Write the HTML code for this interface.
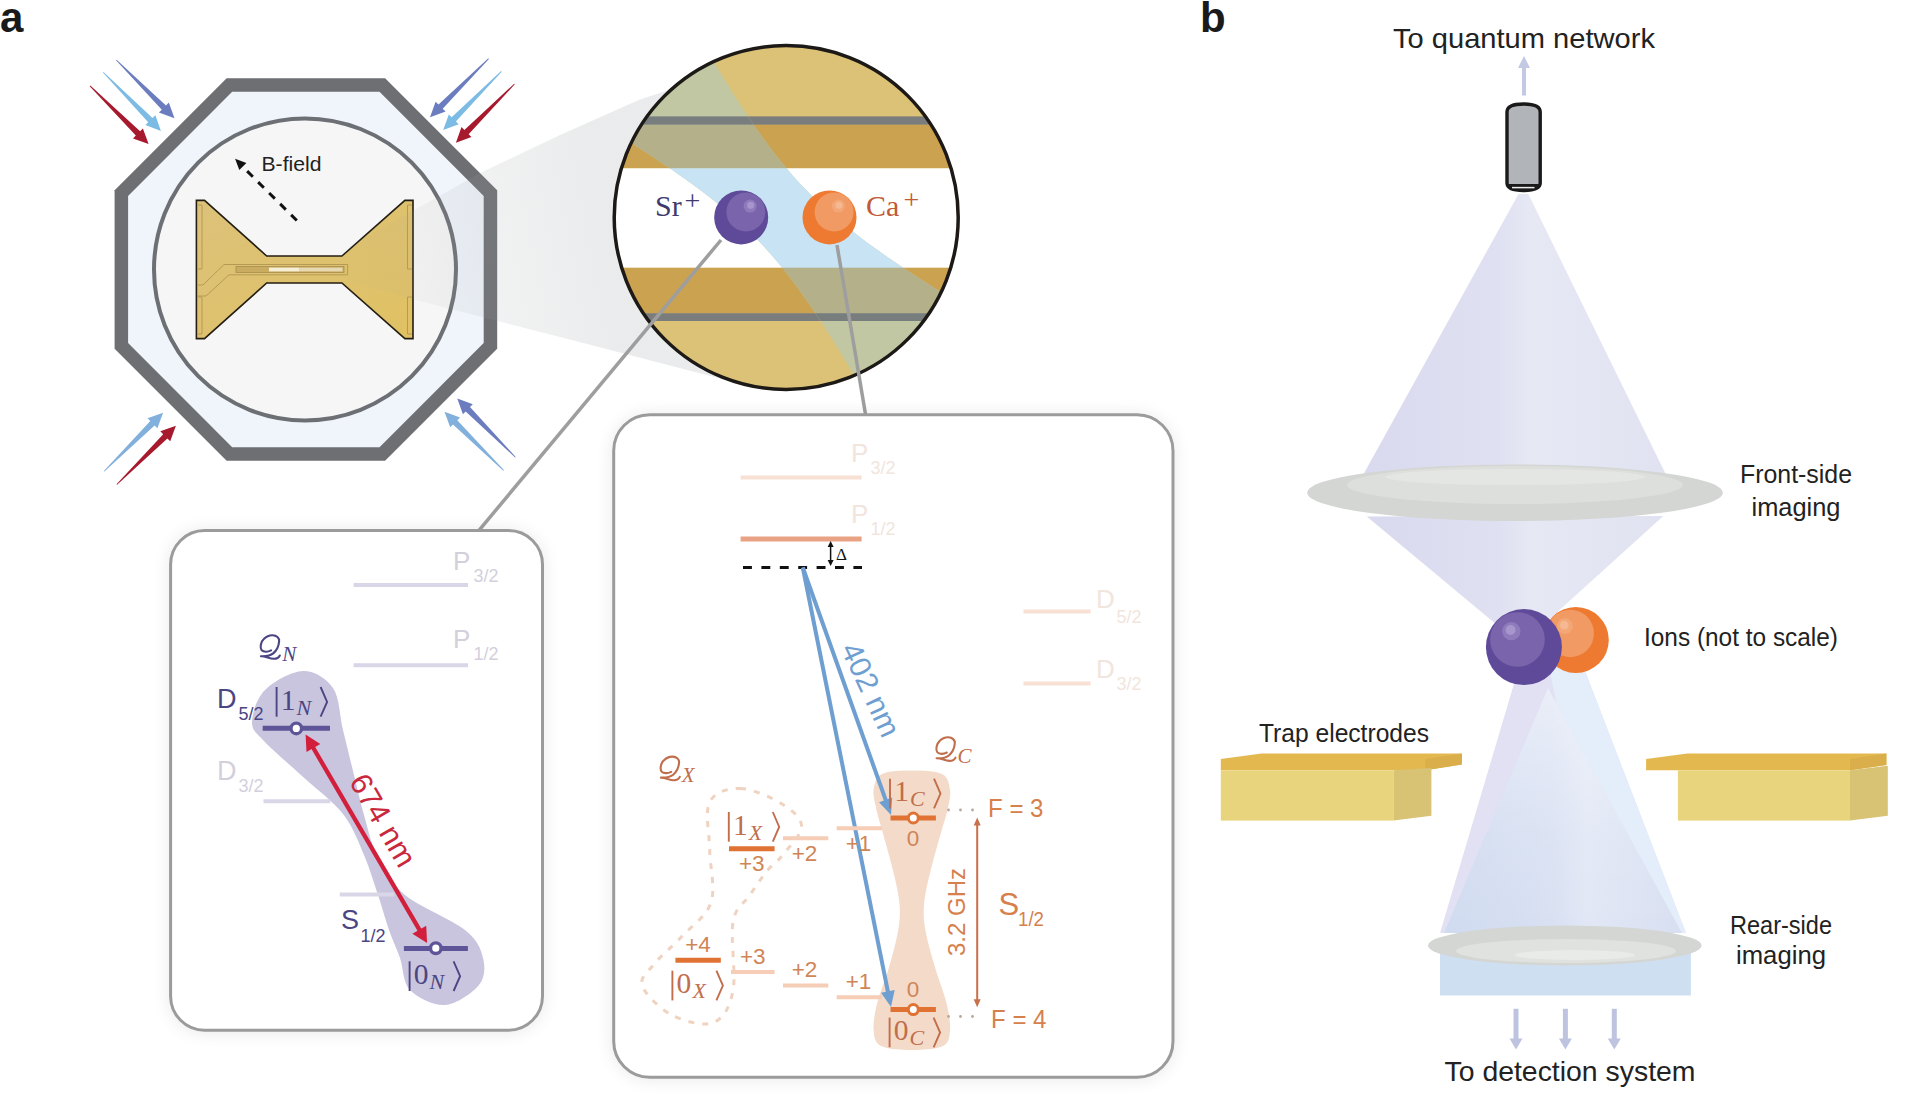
<!DOCTYPE html><html><head><meta charset="utf-8"><style>html,body{margin:0;padding:0;background:#fff;overflow:hidden}svg{display:block}</style></head><body>
<svg width="1920" height="1101" viewBox="0 0 1920 1101">
<defs>
<linearGradient id="wedgeG" gradientUnits="userSpaceOnUse" x1="330" y1="269" x2="600" y2="220">
<stop offset="0" stop-color="#9a9da2" stop-opacity="0"/><stop offset="0.6" stop-color="#9a9da2" stop-opacity="0.14"/><stop offset="1" stop-color="#9a9da2" stop-opacity="0.2"/></linearGradient>
<linearGradient id="goldG" x1="0" y1="0" x2="1" y2="1">
<stop offset="0" stop-color="#dcc27a"/><stop offset="1" stop-color="#e0c163"/></linearGradient>
<clipPath id="magClip"><circle cx="786.2" cy="217.5" r="172"/></clipPath>
<radialGradient id="srG" cx="0.6" cy="0.35" r="0.7"><stop offset="0" stop-color="#8a76bb"/><stop offset="0.55" stop-color="#7560a8"/><stop offset="1" stop-color="#5f4b98"/></radialGradient>
<radialGradient id="caG" cx="0.6" cy="0.35" r="0.7"><stop offset="0" stop-color="#f2a070"/><stop offset="0.55" stop-color="#ef8444"/><stop offset="1" stop-color="#ea702c"/></radialGradient>
<linearGradient id="coneG" x1="0" y1="0" x2="1" y2="0">
<stop offset="0" stop-color="#d9d9ef"/><stop offset="0.45" stop-color="#dfe0f1"/><stop offset="0.55" stop-color="#e6e8f4"/><stop offset="1" stop-color="#e0e2f1"/></linearGradient>
<linearGradient id="innerG" gradientUnits="userSpaceOnUse" x1="1444" y1="0" x2="1682" y2="0"><stop offset="0" stop-color="#d0dbf0"/><stop offset="0.45" stop-color="#d8e0f2"/><stop offset="0.6" stop-color="#e1e7f5"/><stop offset="1" stop-color="#d8dff1"/></linearGradient>
<linearGradient id="innerV" x1="0" y1="0" x2="0" y2="1"><stop offset="0" stop-color="#ffffff" stop-opacity="0.45"/><stop offset="0.6" stop-color="#ffffff" stop-opacity="0.1"/><stop offset="1" stop-color="#ffffff" stop-opacity="0"/></linearGradient>
<linearGradient id="lensG" x1="0" y1="0" x2="0" y2="1">
<stop offset="0" stop-color="#e2e5e2"/><stop offset="1" stop-color="#cfd3cf"/></linearGradient>
<filter id="shadow" x="-20%" y="-20%" width="140%" height="140%"><feGaussianBlur in="SourceAlpha" stdDeviation="9"/><feOffset dx="0" dy="1"/><feComponentTransfer><feFuncA type="linear" slope="0.09"/></feComponentTransfer><feMerge><feMergeNode/><feMergeNode in="SourceGraphic"/></feMerge></filter>
</defs>
<text x="0" y="32" font-family="Liberation Sans, sans-serif" font-weight="bold" font-size="42" fill="#1a1a1a">a</text>
<polygon points="226.6,78.2 385.1,78.2 497.2,190.3 497.2,348.7 385.1,460.8 226.6,460.8 114.6,348.7 114.6,190.3" fill="#6d6f73"/>
<polygon points="232.2,91.7 379.5,91.7 483.7,195.9 483.7,343.1 379.5,447.3 232.2,447.3 128.1,343.1 128.1,195.9" fill="#f0f5fb"/>
<circle cx="305" cy="269.4" r="151" fill="#f6f6f6" stroke="#6c6f73" stroke-width="4"/>
<path d="M196.4,200.4 L204.5,200.4 L266.7,256 L341.9,256 L404.9,200.4 L413,200.4 L413,338.6 L404.9,338.6 L341.9,283 L266.7,283 L204.5,338.6 L196.4,338.6 Z" fill="url(#goldG)" stroke="#231d12" stroke-width="1.6" stroke-linejoin="miter"/>
<g fill="none" stroke="#b59a55" stroke-width="1">
<path d="M197.5,205 L202,205 L202,269 L197.5,269"/><path d="M197.5,297 L202,297 L202,334 L197.5,334"/>
<path d="M412,205 L407.5,205 L407.5,269 L412,269"/><path d="M412,297 L407.5,297 L407.5,334 L412,334"/>
<path d="M197,285 L203,285 L224,264.5 L347.6,264.5 L347.6,274.8 L229,274.8 L206,296 L197,296"/>
</g>
<rect x="236" y="266.5" width="108" height="6" fill="#c9ab62" stroke="#a88d4c" stroke-width="0.8"/>
<rect x="269" y="267.6" width="30.5" height="3.8" fill="#f6efd8"/>
<rect x="299.5" y="267.6" width="43" height="3.8" fill="#e6d8b0"/>
<line x1="296.8" y1="220.5" x2="243" y2="167" stroke="#111" stroke-width="3" stroke-dasharray="8,7.5"/>
<polygon points="235.1,158.8 246.4,163.0 239.3,170.1" fill="#111"/>
<text x="261.5" y="170.9" font-family="Liberation Sans, sans-serif" font-size="21" fill="#222" textLength="60" lengthAdjust="spacingAndGlyphs">B-field</text>
<polygon points="116.0,60.3 161.8,109.7 158.9,112.5 174.5,118.2 168.8,102.6 166.0,105.5 116.6,59.7" fill="#6c7dbf"/>
<polygon points="102.9,72.6 148.2,122.3 145.4,125.1 160.9,130.9 155.4,115.3 152.5,118.1 103.5,72.0" fill="#7cbbe4"/>
<polygon points="89.7,86.2 135.8,135.6 133.0,138.4 148.6,144.0 142.9,128.5 140.1,131.3 90.3,85.6" fill="#a71a2e"/>
<polygon points="488.3,58.3 438.5,104.6 435.6,101.7 430.0,117.3 445.6,111.6 442.7,108.8 488.9,58.9" fill="#6c7dbf"/>
<polygon points="501.1,71.1 451.6,117.2 448.8,114.4 443.2,130.0 458.7,124.3 455.9,121.5 501.7,71.7" fill="#7cbbe4"/>
<polygon points="514.2,83.7 464.4,130.0 461.5,127.1 455.9,142.7 471.5,137.0 468.6,134.2 514.8,84.3" fill="#a71a2e"/>
<polygon points="104.4,471.6 154.6,425.4 157.4,428.2 163.1,412.7 147.5,418.3 150.3,421.1 103.8,471.0" fill="#82b0dc"/>
<polygon points="117.1,484.8 167.4,438.4 170.2,441.2 175.9,425.7 160.3,431.3 163.2,434.2 116.5,484.2" fill="#a71a2e"/>
<polygon points="515.7,456.9 470.0,407.1 472.8,404.3 457.3,398.6 462.9,414.2 465.7,411.4 515.1,457.5" fill="#6c7dbf"/>
<polygon points="503.9,470.1 457.3,420.2 460.1,417.4 444.5,411.8 450.2,427.3 453.0,424.5 503.3,470.7" fill="#82b0dc"/>
<polygon points="306,270 443,194 480,173 560,135 640,99.5 669,90 786,217 722,379 560,337 420,301" fill="url(#wedgeG)"/>
<g clip-path="url(#magClip)">
<rect x="600" y="30" width="380" height="380" fill="#dcc276"/>
<rect x="600" y="116.4" width="380" height="8.4" fill="#7b7d7c"/>
<rect x="600" y="124.8" width="380" height="43.5" fill="#cba24f"/>
<rect x="600" y="168.3" width="380" height="99.5" fill="#ffffff"/>
<rect x="600" y="267.8" width="380" height="45.4" fill="#cba24f"/>
<rect x="600" y="313.2" width="380" height="7.8" fill="#7b7d7c"/>
<clipPath id="beamClip"><path d="M539.9,87.3 L548.8,92.6 L557.7,97.9 L566.6,103.2 L575.4,108.5 L584.3,113.9 L593.1,119.3 L601.9,124.7 L610.6,130.1 L619.4,135.5 L628.1,141.0 L636.7,146.5 L645.3,152.1 L653.9,157.7 L662.4,163.4 L670.9,169.1 L679.3,174.9 L687.6,180.8 L695.8,186.7 L703.9,192.8 L711.9,199.0 L719.8,205.3 L727.5,211.7 L735.1,218.3 L742.5,225.0 L749.8,231.9 L756.8,239.0 L763.7,246.2 L770.4,253.7 L776.9,261.3 L783.3,269.0 L789.5,276.9 L795.6,285.0 L801.5,293.2 L807.4,301.4 L813.1,309.8 L818.7,318.3 L824.3,326.8 L829.8,335.4 L835.2,344.1 L840.6,352.8 L845.9,361.6 L851.2,370.4 L856.4,379.3 L861.6,388.2 L866.8,397.1 L871.9,406.0 L877.1,415.0 L882.2,424.0 L887.3,433.0 L892.3,442.0 L897.4,451.0 L902.4,460.1 L1023.5,342.3 L1014.6,337.0 L1005.7,331.7 L996.8,326.4 L988.0,321.1 L979.1,315.7 L970.3,310.3 L961.5,304.9 L952.8,299.5 L944.0,294.1 L935.3,288.6 L926.7,283.1 L918.1,277.5 L909.5,271.9 L901.0,266.2 L892.5,260.5 L884.1,254.7 L875.8,248.8 L867.6,242.9 L859.5,236.8 L851.5,230.6 L843.6,224.3 L835.9,217.9 L828.3,211.3 L820.9,204.6 L813.6,197.7 L806.6,190.6 L799.7,183.4 L793.0,175.9 L786.5,168.3 L780.1,160.6 L773.9,152.7 L767.8,144.6 L761.9,136.4 L756.0,128.2 L750.3,119.8 L744.7,111.3 L739.1,102.8 L733.6,94.2 L728.2,85.5 L722.8,76.8 L717.5,68.0 L712.2,59.2 L707.0,50.3 L701.8,41.4 L696.6,32.5 L691.5,23.6 L686.3,14.6 L681.2,5.6 L676.1,-3.4 L671.1,-12.4 L666.0,-21.4 L661.0,-30.5Z"/></clipPath>
<g clip-path="url(#beamClip)">
<rect x="600" y="30" width="380" height="380" fill="#c0c7a2"/>
<rect x="600" y="116.4" width="380" height="8.4" fill="#787e7e"/>
<rect x="600" y="124.8" width="380" height="43.5" fill="#b4b08a"/>
<rect x="600" y="168.3" width="380" height="99.5" fill="#c8e4f4"/>
<rect x="600" y="267.8" width="380" height="45.4" fill="#b4b08a"/>
<rect x="600" y="313.2" width="380" height="7.8" fill="#787e7e"/>
</g>
</g>
<circle cx="786.2" cy="217.5" r="172" fill="none" stroke="#1c1916" stroke-width="3.5"/>
<circle cx="741.2" cy="217.4" r="27" fill="#5e4a98"/><circle cx="745.7900000000001" cy="212.0" r="19.439999999999998" fill="#7a64ac"/><circle cx="750.11" cy="206.06" r="6.4799999999999995" fill="#8f7bbb"/><circle cx="750.6500000000001" cy="205.25" r="3.5100000000000002" fill="#a796cc"/>
<circle cx="829.5" cy="217.4" r="27" fill="#ee7a32"/><circle cx="834.09" cy="212.0" r="19.439999999999998" fill="#f19a64"/><circle cx="838.41" cy="206.06" r="6.4799999999999995" fill="#f3a777"/><circle cx="838.95" cy="205.25" r="3.5100000000000002" fill="#f5b892"/>
<text x="655" y="216.4" font-family="Liberation Serif, serif" font-size="30" fill="#3f3a6e">Sr</text><text x="684.5" y="210" font-family="Liberation Serif, serif" font-size="28" fill="#3f3a6e">+</text>
<text x="866" y="216.4" font-family="Liberation Serif, serif" font-size="30" fill="#c25a35">Ca</text><text x="903.5" y="209" font-family="Liberation Serif, serif" font-size="28" fill="#c25a35">+</text>
<line x1="721" y1="240" x2="478.8" y2="530.6" stroke="#9e9e9e" stroke-width="3.5"/>
<line x1="837" y1="245" x2="865.6" y2="414.7" stroke="#9e9e9e" stroke-width="3.5"/>
<rect x="170.6" y="530.6" width="371.9" height="499.6" rx="34" fill="#fff" stroke="#9b9b9b" stroke-width="3" filter="url(#shadow)"/>
<rect x="613.7" y="414.7" width="559.3" height="662.6" rx="36" fill="#fff" stroke="#9b9b9b" stroke-width="3" filter="url(#shadow)"/>
<path d="M303.0,671.0 C314.3,670.7 326.3,678.2 333.0,688.0 C339.7,697.8 339.5,715.5 343.0,730.0 C346.5,744.5 350.5,760.8 354.0,775.0 C357.5,789.2 360.0,801.2 364.0,815.0 C368.0,828.8 371.2,844.7 378.0,858.0 C384.8,871.3 390.5,883.0 405.0,895.0 C419.5,907.0 452.0,919.5 465.0,930.0 C478.0,940.5 480.7,948.8 483.0,958.0 C485.3,967.2 485.3,977.2 479.0,985.0 C472.7,992.8 456.5,1004.2 445.0,1005.0 C433.5,1005.8 417.5,997.8 410.0,990.0 C402.5,982.2 403.5,968.0 400.0,958.0 C396.5,948.0 392.7,940.5 389.0,930.0 C385.3,919.5 382.2,907.5 378.0,895.0 C373.8,882.5 369.8,868.5 364.0,855.0 C358.2,841.5 353.3,827.2 343.0,814.0 C332.7,800.8 315.2,788.2 302.0,776.0 C288.8,763.8 272.3,750.0 264.0,741.0 C255.7,732.0 251.8,730.5 252.0,722.0 C252.2,713.5 256.5,698.5 265.0,690.0 C273.5,681.5 291.7,671.3 303.0,671.0Z" fill="#c9c5de"/>
<line x1="353.6" y1="584.9" x2="468.1" y2="584.9" stroke="#d9d6e8" stroke-width="4"/>
<line x1="353.6" y1="665.2" x2="468.1" y2="665.2" stroke="#d9d6e8" stroke-width="4"/>
<text x="453" y="569.6" font-family="Liberation Sans, sans-serif" font-size="26" fill="#d3d0dc">P</text><text x="473.5" y="582.4" font-family="Liberation Sans, sans-serif" font-size="19" textLength="25" lengthAdjust="spacingAndGlyphs" fill="#d3d0dc">3/2</text>
<text x="453" y="647.5" font-family="Liberation Sans, sans-serif" font-size="26" fill="#d3d0dc">P</text><text x="473.5" y="659.8" font-family="Liberation Sans, sans-serif" font-size="19" textLength="25" lengthAdjust="spacingAndGlyphs" fill="#d3d0dc">1/2</text>
<line x1="263.5" y1="801.3" x2="330.3" y2="801.3" stroke="#d9d6e8" stroke-width="4"/>
<text x="217" y="779.5" font-family="Liberation Sans, sans-serif" font-size="27" fill="#d3d0dc">D</text><text x="238.5" y="792.3" font-family="Liberation Sans, sans-serif" font-size="19" textLength="25" lengthAdjust="spacingAndGlyphs" fill="#d3d0dc">3/2</text>
<line x1="339.8" y1="894.5" x2="394.3" y2="894.5" stroke="#d9d6e8" stroke-width="4"/>
<text x="217" y="707.7" font-family="Liberation Sans, sans-serif" font-size="27" fill="#4b4583">D</text><text x="238.5" y="720.0" font-family="Liberation Sans, sans-serif" font-size="19" textLength="25" lengthAdjust="spacingAndGlyphs" fill="#4b4583">5/2</text>
<text x="341" y="928.8" font-family="Liberation Sans, sans-serif" font-size="27" fill="#4b4583">S</text><text x="360.5" y="941.5" font-family="Liberation Sans, sans-serif" font-size="19" textLength="25" lengthAdjust="spacingAndGlyphs" fill="#4b4583">1/2</text>
<path transform="translate(260.2,634.8)" d="M10.9,15.6 C8,17.2 3.5,17.6 1.5,15.5 C-0.5,13 0.5,7 3.6,4.2 C6,1.8 9.5,0.3 12.3,0.4 C16.5,0.6 19.2,3 18.9,6.5 C18.6,10.5 16.5,15.5 13,18.6 C10.5,20.8 7,21.6 0.7,21.4 C5,21.2 9,23.8 13.4,24 C16.5,24.1 18.7,22.5 19.6,20.7" fill="none" stroke="#4b4583" stroke-width="2.1" stroke-linecap="round" stroke-linejoin="round"/><text x="282.2" y="660.8" font-family="Liberation Serif, serif" font-style="italic" font-size="21" fill="#4b4583">N</text>
<line x1="276.6" y1="687.0" x2="276.6" y2="716.7" stroke="#4b4583" stroke-width="1.9"/><text x="280.8" y="709.5" font-family="Liberation Serif, serif" font-size="29.5" fill="#4b4583">1</text><text x="296.6" y="714.5" font-family="Liberation Serif, serif" font-style="italic" font-size="22" fill="#4b4583">N</text><polyline points="320.6,687.0 327.1,701.9 320.6,716.7" fill="none" stroke="#4b4583" stroke-width="1.9" stroke-linejoin="miter"/>
<line x1="409.6" y1="961.3" x2="409.6" y2="991.0" stroke="#4b4583" stroke-width="1.9"/><text x="413.8" y="983.8" font-family="Liberation Serif, serif" font-size="29.5" fill="#4b4583">0</text><text x="429.6" y="988.8" font-family="Liberation Serif, serif" font-style="italic" font-size="22" fill="#4b4583">N</text><polyline points="453.6,961.3 460.1,976.2 453.6,991.0" fill="none" stroke="#4b4583" stroke-width="1.9" stroke-linejoin="miter"/>
<line x1="262.7" y1="728.3" x2="330" y2="728.3" stroke="#5d5598" stroke-width="5"/>
<line x1="403.9" y1="948.4" x2="467.9" y2="948.4" stroke="#5d5598" stroke-width="5"/>
<circle cx="296.3" cy="728.4" r="5.3" fill="#fff" stroke="#5d5598" stroke-width="3.4"/>
<circle cx="435.8" cy="948.2" r="5.3" fill="#fff" stroke="#5d5598" stroke-width="3.4"/>
<line x1="311.6" y1="745.0" x2="421.1" y2="932.7" stroke="#d21f3b" stroke-width="4.3"/>
<polygon points="305.6,734.6 320.3,744.0 306.5,752.0" fill="#d21f3b"/>
<polygon points="427.1,943.1 412.4,933.7 426.2,925.7" fill="#d21f3b"/>
<text transform="translate(374,825.5) rotate(59.8)" x="0" y="0" text-anchor="middle" dy="0" font-family="Liberation Sans, sans-serif" font-size="30.5" fill="#c9283d">674 nm</text>
<path d="M911.8,770.5 C921.8,770.5 935.6,770.8 942.0,774.0 C948.4,777.2 949.1,784.0 950.0,790.0 C950.9,796.0 948.9,803.3 947.5,810.0 C946.1,816.7 944.5,820.2 941.8,830.0 C939.0,839.8 933.9,857.0 931.0,869.0 C928.1,881.0 925.3,891.8 924.3,901.8 C923.3,911.8 923.4,918.1 925.2,929.0 C927.0,939.9 931.5,955.0 935.0,967.3 C938.5,979.6 944.0,992.5 946.5,1003.0 C949.0,1013.5 950.6,1022.8 950.0,1030.0 C949.4,1037.2 949.4,1042.7 943.0,1046.0 C936.6,1049.3 922.1,1050.0 911.8,1050.0 C901.5,1050.0 887.4,1049.3 881.0,1046.0 C874.6,1042.7 874.2,1037.2 873.6,1030.0 C873.0,1022.8 874.6,1013.5 877.2,1003.0 C879.8,992.5 885.5,979.6 889.0,967.3 C892.5,955.0 896.7,939.9 898.4,929.0 C900.1,918.1 900.3,911.8 899.3,901.8 C898.3,891.8 895.5,881.0 892.6,869.0 C889.7,857.0 884.7,839.8 882.0,830.0 C879.3,820.2 877.9,816.7 876.5,810.0 C875.1,803.3 872.7,796.0 873.6,790.0 C874.5,784.0 875.6,777.2 882.0,774.0 C888.4,770.8 901.8,770.5 911.8,770.5Z" fill="#f4dbc9"/>
<line x1="740.6" y1="477.5" x2="861.6" y2="477.5" stroke="#f8e1d4" stroke-width="4"/>
<text x="851" y="462" font-family="Liberation Sans, sans-serif" font-size="26" fill="#f1e5dd">P</text><text x="870.5" y="474.1" font-family="Liberation Sans, sans-serif" font-size="19" textLength="25" lengthAdjust="spacingAndGlyphs" fill="#f1e5dd">3/2</text>
<line x1="740.6" y1="539" x2="861.6" y2="539" stroke="#e9a283" stroke-width="5"/>
<text x="851" y="522.6" font-family="Liberation Sans, sans-serif" font-size="26" fill="#f1e5dd">P</text><text x="870.5" y="534.5" font-family="Liberation Sans, sans-serif" font-size="19" textLength="25" lengthAdjust="spacingAndGlyphs" fill="#f1e5dd">1/2</text>
<line x1="743" y1="567.5" x2="862" y2="567.5" stroke="#111" stroke-width="3.2" stroke-dasharray="8.9,9.5"/>
<line x1="830.6" y1="546" x2="830.6" y2="561" stroke="#111" stroke-width="1.5"/>
<polygon points="830.6,541.0 833.6,547.0 827.6,547.0" fill="#111"/>
<polygon points="830.6,566.0 827.6,560.0 833.6,560.0" fill="#111"/>
<text x="836" y="560" font-family="Liberation Serif, serif" font-size="17" fill="#111">Δ</text>
<line x1="1023.5" y1="611.6" x2="1090.6" y2="611.6" stroke="#f8e1d4" stroke-width="4"/>
<text x="1096" y="607.7" font-family="Liberation Sans, sans-serif" font-size="26" fill="#f1e5dd">D</text><text x="1116.5" y="622.9" font-family="Liberation Sans, sans-serif" font-size="19" textLength="25" lengthAdjust="spacingAndGlyphs" fill="#f1e5dd">5/2</text>
<line x1="1023.5" y1="683.6" x2="1090.6" y2="683.6" stroke="#f8e1d4" stroke-width="4"/>
<text x="1096" y="678" font-family="Liberation Sans, sans-serif" font-size="26" fill="#f1e5dd">D</text><text x="1116.5" y="689.9" font-family="Liberation Sans, sans-serif" font-size="19" textLength="25" lengthAdjust="spacingAndGlyphs" fill="#f1e5dd">3/2</text>
<line x1="802.8" y1="567.5" x2="887.0" y2="803.7" stroke="#6e9fd0" stroke-width="4"/>
<polygon points="891.0,815.0 879.0,802.3 892.2,797.6" fill="#6e9fd0"/>
<line x1="802.8" y1="567.5" x2="888.6" y2="995.2" stroke="#6e9fd0" stroke-width="4"/>
<polygon points="891.0,1007.0 881.0,992.7 894.7,989.9" fill="#6e9fd0"/>
<text transform="translate(861.5,694) rotate(65)" text-anchor="middle" font-family="Liberation Sans, sans-serif" font-size="30" fill="#6e9fd0">402 nm</text>
<line x1="836.7" y1="828.2" x2="882" y2="828.2" stroke="#f6cdb6" stroke-width="4"/>
<line x1="783" y1="838.3" x2="828.3" y2="838.3" stroke="#f6cdb6" stroke-width="4"/>
<line x1="836.7" y1="997.2" x2="882" y2="997.2" stroke="#f6cdb6" stroke-width="4"/>
<line x1="783" y1="985.5" x2="828.3" y2="985.5" stroke="#f6cdb6" stroke-width="4"/>
<line x1="731" y1="972" x2="774.6" y2="972" stroke="#f6cdb6" stroke-width="4"/>
<line x1="729" y1="848.7" x2="774.6" y2="848.7" stroke="#e07234" stroke-width="5"/>
<line x1="675.4" y1="960.3" x2="720.8" y2="960.3" stroke="#e07234" stroke-width="5"/>
<line x1="890.5" y1="818" x2="935.9" y2="818" stroke="#e07234" stroke-width="5"/>
<line x1="890.5" y1="1009.6" x2="935.9" y2="1009.6" stroke="#e07234" stroke-width="5"/>
<circle cx="913.3" cy="818" r="5" fill="#fff" stroke="#e07234" stroke-width="3"/>
<circle cx="913.3" cy="1009.6" r="5" fill="#fff" stroke="#e07234" stroke-width="3"/>
<text x="858.5" y="851" text-anchor="middle" font-family="Liberation Sans, sans-serif" font-size="22.5" fill="#d08556">+1</text>
<text x="804.5" y="861" text-anchor="middle" font-family="Liberation Sans, sans-serif" font-size="22.5" fill="#d08556">+2</text>
<text x="751.8" y="871" text-anchor="middle" font-family="Liberation Sans, sans-serif" font-size="22.5" fill="#d08556">+3</text>
<text x="858.5" y="988.8" text-anchor="middle" font-family="Liberation Sans, sans-serif" font-size="22.5" fill="#d08556">+1</text>
<text x="804.5" y="977" text-anchor="middle" font-family="Liberation Sans, sans-serif" font-size="22.5" fill="#d08556">+2</text>
<text x="752.8" y="963.6" text-anchor="middle" font-family="Liberation Sans, sans-serif" font-size="22.5" fill="#d08556">+3</text>
<text x="698" y="951.8" text-anchor="middle" font-family="Liberation Sans, sans-serif" font-size="22.5" fill="#d08556">+4</text>
<text x="913" y="846" text-anchor="middle" font-family="Liberation Sans, sans-serif" font-size="22.5" fill="#d08556">0</text>
<text x="913" y="997" text-anchor="middle" font-family="Liberation Sans, sans-serif" font-size="22.5" fill="#d08556">0</text>
<line x1="890.0" y1="778.7" x2="890.0" y2="808.4" stroke="#c06e4c" stroke-width="1.9"/><text x="894.2" y="801.2" font-family="Liberation Serif, serif" font-size="29.5" fill="#c06e4c">1</text><text x="910.0" y="806.2" font-family="Liberation Serif, serif" font-style="italic" font-size="22" fill="#c06e4c">C</text><polyline points="934.0,778.7 940.5,793.6 934.0,808.4" fill="none" stroke="#c06e4c" stroke-width="1.9" stroke-linejoin="miter"/>
<line x1="889.6" y1="1017.6" x2="889.6" y2="1047.3" stroke="#c06e4c" stroke-width="1.9"/><text x="893.8" y="1040.1" font-family="Liberation Serif, serif" font-size="29.5" fill="#c06e4c">0</text><text x="909.6" y="1045.1" font-family="Liberation Serif, serif" font-style="italic" font-size="22" fill="#c06e4c">C</text><polyline points="933.6,1017.6 940.1,1032.5 933.6,1047.3" fill="none" stroke="#c06e4c" stroke-width="1.9" stroke-linejoin="miter"/>
<line x1="728.8" y1="812.0" x2="728.8" y2="841.7" stroke="#c06e4c" stroke-width="1.9"/><text x="733.0" y="834.5" font-family="Liberation Serif, serif" font-size="29.5" fill="#c06e4c">1</text><text x="748.8" y="839.5" font-family="Liberation Serif, serif" font-style="italic" font-size="22" fill="#c06e4c">X</text><polyline points="772.8,812.0 779.2,826.9 772.8,841.7" fill="none" stroke="#c06e4c" stroke-width="1.9" stroke-linejoin="miter"/>
<line x1="672.4" y1="970.7" x2="672.4" y2="1000.4" stroke="#c06e4c" stroke-width="1.9"/><text x="676.6" y="993.2" font-family="Liberation Serif, serif" font-size="29.5" fill="#c06e4c">0</text><text x="692.4" y="998.2" font-family="Liberation Serif, serif" font-style="italic" font-size="22" fill="#c06e4c">X</text><polyline points="716.4,970.7 722.9,985.6 716.4,1000.4" fill="none" stroke="#c06e4c" stroke-width="1.9" stroke-linejoin="miter"/>
<path transform="translate(935.9,736.9)" d="M10.9,15.6 C8,17.2 3.5,17.6 1.5,15.5 C-0.5,13 0.5,7 3.6,4.2 C6,1.8 9.5,0.3 12.3,0.4 C16.5,0.6 19.2,3 18.9,6.5 C18.6,10.5 16.5,15.5 13,18.6 C10.5,20.8 7,21.6 0.7,21.4 C5,21.2 9,23.8 13.4,24 C16.5,24.1 18.7,22.5 19.6,20.7" fill="none" stroke="#c06e4c" stroke-width="2.1" stroke-linecap="round" stroke-linejoin="round"/><text x="957.4" y="763.4" font-family="Liberation Serif, serif" font-style="italic" font-size="21" fill="#c06e4c">C</text>
<path transform="translate(660.2,756.2)" d="M10.9,15.6 C8,17.2 3.5,17.6 1.5,15.5 C-0.5,13 0.5,7 3.6,4.2 C6,1.8 9.5,0.3 12.3,0.4 C16.5,0.6 19.2,3 18.9,6.5 C18.6,10.5 16.5,15.5 13,18.6 C10.5,20.8 7,21.6 0.7,21.4 C5,21.2 9,23.8 13.4,24 C16.5,24.1 18.7,22.5 19.6,20.7" fill="none" stroke="#c06e4c" stroke-width="2.1" stroke-linecap="round" stroke-linejoin="round"/><text x="681.7" y="782.2" font-family="Liberation Serif, serif" font-style="italic" font-size="21" fill="#c06e4c">X</text>
<text x="988" y="817.4" font-family="Liberation Sans, sans-serif" font-size="26" fill="#d6804c" textLength="55.5" lengthAdjust="spacingAndGlyphs">F = 3</text>
<text x="991" y="1027.5" font-family="Liberation Sans, sans-serif" font-size="26" fill="#d6804c" textLength="55.5" lengthAdjust="spacingAndGlyphs">F = 4</text>
<circle cx="948.5" cy="810" r="1.4" fill="#b9a79c"/>
<circle cx="960.5" cy="810" r="1.4" fill="#b9a79c"/>
<circle cx="972.5" cy="810" r="1.4" fill="#b9a79c"/>
<circle cx="948.5" cy="1016.5" r="1.4" fill="#b9a79c"/>
<circle cx="960.5" cy="1016.5" r="1.4" fill="#b9a79c"/>
<circle cx="972.5" cy="1016.5" r="1.4" fill="#b9a79c"/>
<line x1="977.2" y1="824" x2="977.2" y2="1001" stroke="#c87048" stroke-width="2"/>
<polygon points="977.2,817.4 980.7,825.4 973.7,825.4" fill="#c87048"/>
<polygon points="977.2,1007.3 973.7,999.3 980.7,999.3" fill="#c87048"/>
<text transform="translate(965,912) rotate(-90)" text-anchor="middle" font-family="Liberation Sans, sans-serif" font-size="24" fill="#d6804c">3.2 GHz</text>
<text x="998.5" y="915" font-family="Liberation Sans, sans-serif" font-size="31" fill="#d6804c">S</text><text x="1018" y="926" font-family="Liberation Sans, sans-serif" font-size="20" textLength="26" lengthAdjust="spacingAndGlyphs" fill="#d6804c">1/2</text>
<path d="M740.3,788.4 C752.3,788.7 771.8,797.7 782.0,804.0 C792.2,810.3 801.6,817.8 801.6,826.4 C801.6,835.0 787.7,848.4 782.0,855.8 C776.3,863.1 772.6,864.0 767.3,870.5 C762.0,877.0 755.7,886.4 750.0,895.0 C744.3,903.6 735.8,906.0 733.0,922.0 C730.2,938.0 736.3,973.9 733.0,990.7 C729.7,1007.5 723.6,1018.6 713.4,1022.6 C703.2,1026.7 683.6,1021.1 671.7,1015.0 C659.9,1008.9 645.2,994.3 642.3,985.8 C639.4,977.2 648.0,971.9 654.5,963.7 C661.0,955.5 672.1,946.9 681.5,936.7 C690.9,926.5 706.3,916.9 711.0,902.4 C715.7,887.9 709.9,866.7 709.7,850.0 C709.5,833.3 704.6,812.3 709.7,802.0 C714.8,791.7 728.2,788.1 740.3,788.4Z" fill="none" stroke="#efd3c0" stroke-width="3" stroke-dasharray="6,8"/>
<text x="1200" y="31.5" font-family="Liberation Sans, sans-serif" font-weight="bold" font-size="42" fill="#1a1a1a">b</text>
<text x="1393" y="48.3" font-family="Liberation Sans, sans-serif" font-size="28" fill="#222" textLength="262" lengthAdjust="spacingAndGlyphs">To quantum network</text>
<line x1="1524" y1="95.5" x2="1524" y2="66" stroke="#c3c8e3" stroke-width="4"/>
<polygon points="1524.0,56.0 1530.0,68.0 1518.0,68.0" fill="#c3c8e3"/>
<polygon points="1518.5,194 1528.3,194 1676,495 1352,495" fill="url(#coneG)"/>
<polygon points="1366.8,516.6 1521,645 1663.3,516" fill="url(#coneG)"/>
<path d="M1507,112 Q1507,104 1523.6,104 Q1540.2,104 1540.2,112 L1540.2,183 Q1540.2,190.5 1523.6,190.5 Q1507,190.5 1507,183 Z" fill="#b1b4b8" stroke="#1a1a1a" stroke-width="3.4"/>
<path d="M1508,184 L1539,184 L1539,187 Q1539,190 1523.6,190 Q1508,190 1508,187 Z" fill="#1a1a1a"/>
<line x1="1512" y1="187.6" x2="1534.5" y2="187.6" stroke="#eeeeee" stroke-width="1.5"/>
<ellipse cx="1515" cy="492.7" rx="207.8" ry="28.3" fill="#d3d6d3"/>
<ellipse cx="1515" cy="485" rx="168" ry="19" fill="#dcdfdc"/>
<ellipse cx="1515" cy="477" rx="130" ry="8" fill="#e4e6e4"/>
<polygon points="1524,650 1575,645 1686,933 1440,933" fill="#e1e1f3"/>
<polygon points="1548,660 1575,645 1686,933 1600,933" fill="#e4eefa"/>
<polygon points="1548,688 1444,933 1682,933" fill="url(#innerG)"/>
<polygon points="1548,688 1444,933 1682,933" fill="url(#innerV)"/>
<rect x="1440" y="945" width="250.9" height="50.5" fill="#cfdff2"/>
<ellipse cx="1564.8" cy="945.5" rx="136.8" ry="20" fill="#d3d6d3"/>
<ellipse cx="1566" cy="951" rx="110" ry="12" fill="#dfe2df"/>
<ellipse cx="1575" cy="955" rx="60" ry="5" fill="#e9ebe9"/>
<circle cx="1575.8" cy="640" r="33" fill="#ee7a32"/><circle cx="1570.19" cy="633.4" r="23.759999999999998" fill="#f19a64"/><circle cx="1564.9099999999999" cy="626.14" r="7.92" fill="#f3a777"/><circle cx="1564.25" cy="625.15" r="4.29" fill="#f5b892"/>
<circle cx="1523.9" cy="647.1" r="38" fill="#5e4a98"/><circle cx="1517.44" cy="639.5" r="27.36" fill="#7a64ac"/><circle cx="1511.3600000000001" cy="631.14" r="9.12" fill="#8f7bbb"/><circle cx="1510.6000000000001" cy="630.0" r="4.94" fill="#a796cc"/>
<polygon points="1220.8,759 1261.5,753.5 1461.9,753.5 1461.9,764.4 1425.3,770.3 1220.8,770.3" fill="#e3b84f"/>
<polygon points="1425.3,759 1461.9,753.5 1461.9,764.4 1425.3,770.3" fill="#d9ae4b"/>
<rect x="1220.8" y="770.3" width="172.7" height="50.3" fill="#e8d47c"/>
<polygon points="1393.5,770.3 1431.4,768 1431.4,815.8 1393.5,820.6" fill="#d8c274"/>
<polygon points="1646.1,759 1687.4,753.5 1886.4,753.5 1886.4,765 1850,770.3 1646.1,770.3" fill="#e3b84f"/>
<polygon points="1850,759 1886.4,753.5 1886.4,765 1850,770.3" fill="#d9ae4b"/>
<rect x="1677.9" y="770.3" width="172.1" height="50.3" fill="#e8d47c"/>
<polygon points="1850,770.3 1887.8,765.7 1887.8,815.8 1850,820.6" fill="#d8c274"/>
<text x="1644" y="645.5" font-family="Liberation Sans, sans-serif" font-size="26" fill="#222" textLength="194" lengthAdjust="spacingAndGlyphs">Ions (not to scale)</text>
<text x="1259" y="742.3" font-family="Liberation Sans, sans-serif" font-size="26" fill="#222" textLength="170" lengthAdjust="spacingAndGlyphs">Trap electrodes</text>
<text x="1740" y="483" font-family="Liberation Sans, sans-serif" font-size="26" fill="#222" textLength="112" lengthAdjust="spacingAndGlyphs">Front-side</text>
<text x="1751.5" y="516" font-family="Liberation Sans, sans-serif" font-size="26" fill="#222" textLength="89" lengthAdjust="spacingAndGlyphs">imaging</text>
<text x="1730" y="934" font-family="Liberation Sans, sans-serif" font-size="26" fill="#222" textLength="102" lengthAdjust="spacingAndGlyphs">Rear-side</text>
<text x="1736" y="964" font-family="Liberation Sans, sans-serif" font-size="26" fill="#222" textLength="90" lengthAdjust="spacingAndGlyphs">imaging</text>
<line x1="1516" y1="1008.8" x2="1516" y2="1040" stroke="#bec4e0" stroke-width="5"/>
<polygon points="1516.0,1049.6 1509.5,1038.6 1522.5,1038.6" fill="#bec4e0"/>
<line x1="1565.4" y1="1008.8" x2="1565.4" y2="1040" stroke="#bec4e0" stroke-width="5"/>
<polygon points="1565.4,1049.6 1558.9,1038.6 1571.9,1038.6" fill="#bec4e0"/>
<line x1="1614.3" y1="1008.8" x2="1614.3" y2="1040" stroke="#bec4e0" stroke-width="5"/>
<polygon points="1614.3,1049.6 1607.8,1038.6 1620.8,1038.6" fill="#bec4e0"/>
<text x="1444.5" y="1081" font-family="Liberation Sans, sans-serif" font-size="28" fill="#222" textLength="251" lengthAdjust="spacingAndGlyphs">To detection system</text>
</svg></body></html>
